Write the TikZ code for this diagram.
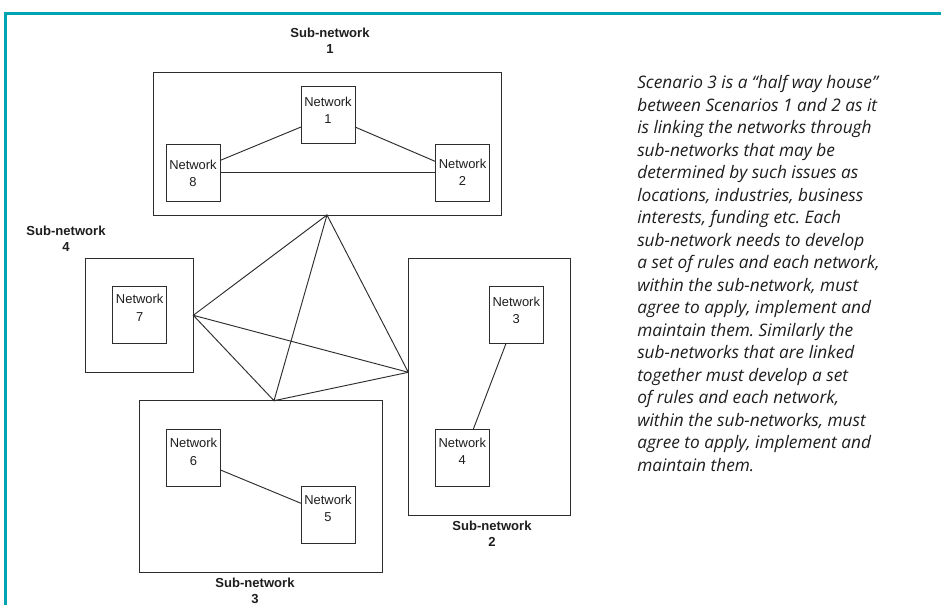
\documentclass[tikz,border=0pt]{standalone}
\usepackage{fontspec}
\setmainfont{Liberation Sans}
\newfontfamily\bodyfont{Open Sans}
\usetikzlibrary{calc}
\definecolor{frameteal}{RGB}{0,164,178}
\definecolor{linegrey}{RGB}{45,45,45}
\definecolor{textgrey}{RGB}{30,30,30}

\begin{document}
\frenchspacing
\begin{tikzpicture}[x=0.75pt,y=-0.75pt,
  subbox/.style={draw=linegrey, line width=0.7pt, inner sep=0pt, outer sep=0pt},
  netbox/.style={draw=linegrey, line width=0.7pt, inner sep=0pt, outer sep=0pt,
    minimum width=54*0.75pt, minimum height=57*0.75pt},
  nettext/.style={font=\fontsize{9.7}{13}\selectfont, text=textgrey, align=center,
    inner sep=0pt, anchor=north},
  subtext/.style={font=\bfseries\fontsize{9.8}{12}\selectfont, text=textgrey, align=center,
    inner sep=0pt, anchor=north},
  link/.style={draw=linegrey, line width=0.7pt}]

% page area and teal corner rule
\useasboundingbox (0,0) rectangle (941,605);
\fill[white] (0,0) rectangle (941,605);
\draw[frameteal, line width=2pt, line cap=butt] (5.5,605) -- (5.5,13.2) -- (941,13.2);

% sub-network frames
\node[subbox, minimum width=348*0.75pt, minimum height=143*0.75pt] (s1) at (327,143.5) {};
\node[subbox, minimum width=107.6*0.75pt, minimum height=114*0.75pt] (s4) at (139.5,315.3) {};
\node[subbox, minimum width=242.7*0.75pt, minimum height=171.6*0.75pt] (s3) at (260.7,486.5) {};
\node[subbox, minimum width=162.4*0.75pt, minimum height=256.7*0.75pt] (s2) at (489.5,386.7) {};

% sub-network captions
\node[subtext] (s1t) at (330,28) {Sub-network\\1};
\node[subtext] (s4t) at (66,226) {Sub-network\\4};
\node[subtext] (s3t) at (255,578) {Sub-network\\3};
\node[subtext] (s2t) at (492,521) {Sub-network\\2};

% networks
\node[netbox] (n1) at (328,115) {};
\node[netbox] (n8) at (193,172.5) {};
\node[netbox] (n2) at (462.5,172.5) {};
\node[netbox] (n7) at (139.7,315.2) {};
\node[netbox] (n6) at (193.5,457.7) {};
\node[netbox] (n5) at (328,515) {};
\node[netbox] (n3) at (516.3,315) {};
\node[netbox] (n4) at (462.3,457.7) {};

\node[nettext] (n1t) at ($(n1.north)+(0,10)$) {Network\\1};
\node[nettext] (n8t) at ($(n8.north)+(0,15.5)$) {Network\\8};
\node[nettext] (n2t) at ($(n2.north)+(0,14.5)$) {Network\\2};
\node[nettext] (n7t) at ($(n7.north)+(0,7.5)$) {Network\\7};
\node[nettext] (n6t) at ($(n6.north)+(0,9)$) {Network\\6};
\node[nettext] (n5t) at ($(n5.north)+(0,8.5)$) {Network\\5};
\node[nettext] (n3t) at ($(n3.north)+(0,10.5)$) {Network\\3};
\node[nettext] (n4t) at ($(n4.north)+(0,8.5)$) {Network\\4};

% links inside the sub-networks
\draw[link] ($(n8.east)+(0,-12)$) -- ($(n1.west)+(0,12)$);
\draw[link] ($(n1.east)+(0,12)$) -- ($(n2.west)+(0,-11)$);
\draw[link] (n8.east) -- (n2.west);
\draw[link] ($(n6.east)+(0,12.3)$) -- ($(n5.west)+(0,-11.7)$);
\draw[link] ($(n3.south)+(-10.3,0)$) -- ($(n4.north)+(11,0)$);

% links between the sub-networks
\coordinate (ja) at (s1.south);
\coordinate (jb) at (s4.east);
\coordinate (jc) at ($(s3.north)+(13.3,0)$);
\coordinate (jd) at ($(s2.west)+(0,-14.4)$);
\draw[link] (ja) -- (jb) -- (jc) -- (ja) -- (jd) -- (jb);
\draw[link] (jc) -- (jd);

% description
\node[anchor=north west, align=left, inner sep=0pt, text=textgrey,
  font=\bodyfont\itshape\fontsize{12.95}{16.875}\selectfont] (desc) at (637,75.5) {%
Scenario 3 is a “half way house”\\
between Scenarios 1 and 2 as it\\
is linking the networks through\\
sub-networks that may be\\
determined by such issues as\\
locations, industries, business\\
interests, funding etc. Each\\
sub-network needs to develop\\
a set of rules and each network,\\
within the sub-network, must\\
agree to apply, implement and\\
maintain them. Similarly the\\
sub-networks that are linked\\
together must develop a set\\
of rules and each network,\\
within the sub-networks, must\\
agree to apply, implement and\\
maintain them.};
\end{tikzpicture}
\end{document}
